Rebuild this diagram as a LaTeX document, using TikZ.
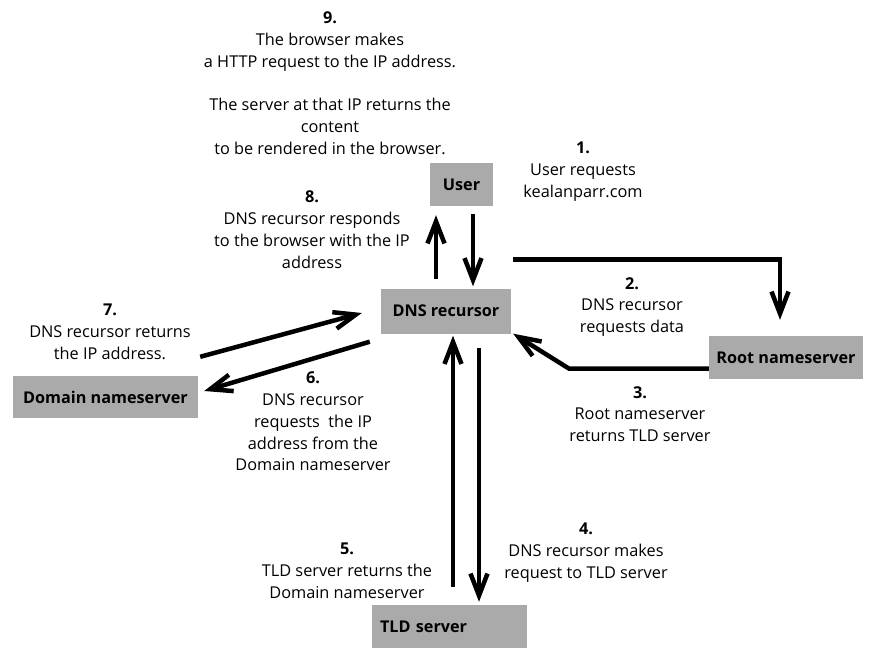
\documentclass[tikz,border=0pt]{standalone}
\usepackage{fontspec}
\setmainfont{Open Sans}
\usepackage{xcolor}
\usetikzlibrary{arrows.meta}
\definecolor{boxgray}{RGB}{170,170,170}

\begin{document}
\begin{tikzpicture}[line cap=butt,line join=miter,x=1pt,y=-1pt,
  box/.style={fill=boxgray,inner sep=0pt,minimum height=43pt,font=\fontsize{16.2}{19}\selectfont\bfseries},
  flow/.style={line width=4.5pt,-{Straight Barb[length=22pt,width=17pt,line width=4.5pt]}},
  steplabel/.style={anchor=north,align=center,inner sep=0pt,font=\fontsize{16.3}{21.7}\selectfont}]
\useasboundingbox (0,0) rectangle (878,666);
\node[box,minimum width=63pt] (user) at (461.5,184.5) {User};
\node[box,minimum width=130pt,minimum height=45pt] (dns) at (446,311) {DNS recursor};
\node[box,minimum width=154pt] (root) at (786,357.5) {Root nameserver};
\node[box,minimum width=185pt,minimum height=42pt] (domain) at (105.5,397) {Domain nameserver};
\node[box,minimum width=155pt,text width=139pt,inner xsep=8pt,align=left] (tld) at (449.5,626.5) {TLD server};

\draw [flow] ([shift={(11.5,8)}]user.south) -- ([shift={(27,-2)}]dns.north);
\draw [flow] ([shift={(2,-29)}]dns.north east) -| ([shift={(-6,-16)}]root.north);
\draw [flow] ([shift={(0,11)}]root.west) -- ++(-140,0) -- ([xshift=2]dns.south east);
\draw [flow] ([shift={(33,14)}]dns.south) -- ([shift={(29.5,-3)}]tld.north);
\draw [flow] ([shift={(3.5,-18)}]tld.north) -- ([shift={(7,2)}]dns.south);
\draw [flow] ([shift={(-11,8)}]dns.south west) -- ([shift={(6,-6)}]domain.east);
\draw [flow] ([shift={(2,-19)}]domain.north east) -- ([shift={(-19,2)}]dns.west);
\draw [flow] ([shift={(-10,-9)}]dns.north) -- ([shift={(-25.5,9)}]user.south);

\node[steplabel] (l9) at (330,12) {\textbf{9.}\\The browser makes\\a HTTP request to the IP address.\\\mbox{}\\The server at that IP returns the\\content\\to be rendered in the browser.};
\node[steplabel] (l1) at (583,142) {\textbf{1.}\\User requests\\kealanparr.com};
\node[steplabel] (l8) at (312,191) {\textbf{8.}\\DNS recursor responds\\to the browser with the IP\\address};
\node[steplabel] (l2) at (632,277) {\textbf{2.}\\DNS recursor\\requests data};
\node[steplabel] (l7) at (110,304) {\textbf{7.}\\DNS recursor returns\\the IP address.};
\node[steplabel] (l6) at (313,372) {\textbf{6.}\\DNS recursor\\requests\ \ the IP\\address from the\\Domain nameserver};
\node[steplabel] (l3) at (640,386) {\textbf{3.}\\Root nameserver\\returns TLD server};
\node[steplabel] (l4) at (586,523) {\textbf{4.}\\DNS recursor makes\\request to TLD server};
\node[steplabel] (l5) at (347,543) {\textbf{5.}\\TLD server returns the\\Domain nameserver};
\end{tikzpicture}
\end{document}
